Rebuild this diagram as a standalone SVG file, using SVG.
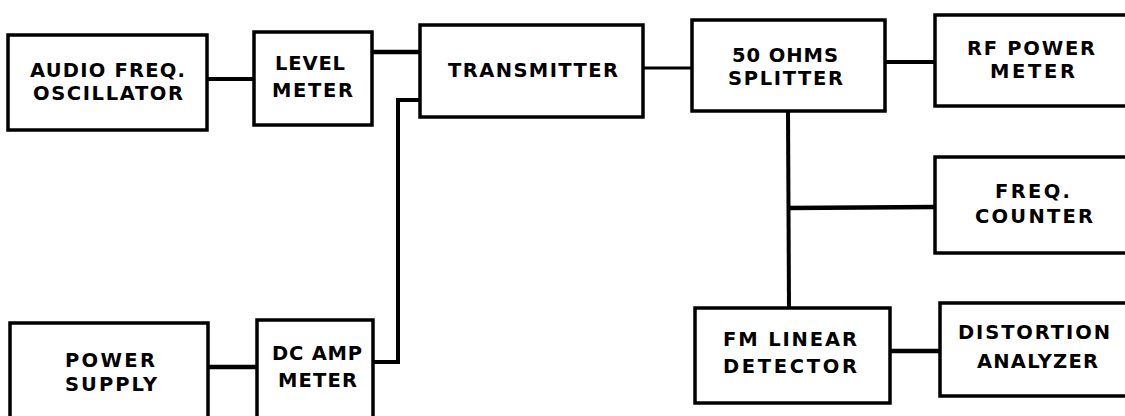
<svg xmlns="http://www.w3.org/2000/svg" width="1125" height="416" viewBox="0 0 1125 416">
<style>
.box{fill:#fff;stroke:#000;stroke-width:3.5;stroke-linejoin:miter}
.lbl{font-family:"DejaVu Sans","Liberation Sans",Arial,sans-serif;font-weight:bold;font-size:19.5px;fill:#000;text-anchor:middle}
.wire{fill:none;stroke:#000;stroke-linejoin:miter}
</style>
<rect width="1125" height="416" fill="#fff"/>
<g id="connectors">
<line class="wire" x1="207" y1="79" x2="254" y2="79" stroke-width="4"/>
<line class="wire" x1="372" y1="52" x2="420" y2="52" stroke-width="4.5"/>
<polyline class="wire" points="373,362 398,362 398,100 420,100" stroke-width="4"/>
<line class="wire" x1="208" y1="367" x2="257" y2="367" stroke-width="4.5"/>
<line class="wire" x1="643" y1="68" x2="692" y2="68" stroke-width="3"/>
<line class="wire" x1="885" y1="62" x2="935" y2="62" stroke-width="4"/>
<line class="wire" x1="788" y1="111" x2="789" y2="308" stroke-width="4"/>
<line class="wire" x1="788" y1="208" x2="935" y2="207" stroke-width="4.5"/>
<line class="wire" x1="890" y1="351" x2="940" y2="351" stroke-width="4.5"/>
</g>
<g id="audio-osc">
<rect class="box" x="8" y="35" width="199" height="95"/>
<text class="lbl" x="107.5" y="77" textLength="155" lengthAdjust="spacing">AUDIO FREQ.</text>
<text class="lbl" x="108" y="100" textLength="150" lengthAdjust="spacing">OSCILLATOR</text>
</g>
<g id="level-meter">
<rect class="box" x="254" y="32" width="118" height="93"/>
<text class="lbl" x="310" y="70" textLength="70" lengthAdjust="spacing">LEVEL</text>
<text class="lbl" x="312.5" y="97" textLength="81" lengthAdjust="spacing">METER</text>
</g>
<g id="transmitter">
<rect class="box" x="420" y="25" width="223" height="92"/>
<text class="lbl" x="533" y="77" textLength="170" lengthAdjust="spacing">TRANSMITTER</text>
</g>
<g id="splitter">
<rect class="box" x="692" y="20" width="193" height="91"/>
<text class="lbl" x="785" y="62" textLength="106" lengthAdjust="spacing">50 OHMS</text>
<text class="lbl" x="785.5" y="85" textLength="115" lengthAdjust="spacing">SPLITTER</text>
</g>
<g id="rf-power-meter">
<rect class="box" x="935" y="15" width="200" height="91"/>
<text class="lbl" x="1031" y="55" textLength="128" lengthAdjust="spacing">RF POWER</text>
<text class="lbl" x="1032.5" y="78" textLength="85" lengthAdjust="spacing">METER</text>
</g>
<g id="freq-counter">
<rect class="box" x="935" y="157" width="200" height="96"/>
<text class="lbl" x="1032.5" y="198" textLength="75" lengthAdjust="spacing">FREQ.</text>
<text class="lbl" x="1034" y="223" textLength="118" lengthAdjust="spacing">COUNTER</text>
</g>
<g id="power-supply">
<rect class="box" x="10" y="323" width="198" height="110"/>
<text class="lbl" x="110" y="367" textLength="90" lengthAdjust="spacing">POWER</text>
<text class="lbl" x="111" y="391" textLength="92" lengthAdjust="spacing">SUPPLY</text>
</g>
<g id="dc-amp-meter">
<rect class="box" x="257" y="320" width="116" height="110"/>
<text class="lbl" x="317" y="360" textLength="90" lengthAdjust="spacing">DC AMP</text>
<text class="lbl" x="317.5" y="387" textLength="79" lengthAdjust="spacing">METER</text>
</g>
<g id="fm-linear-detector">
<rect class="box" x="695" y="308" width="195" height="95"/>
<text class="lbl" x="790" y="346" textLength="134" lengthAdjust="spacing">FM LINEAR</text>
<text class="lbl" x="790" y="373" textLength="134" lengthAdjust="spacing">DETECTOR</text>
</g>
<g id="distortion-analyzer">
<rect class="box" x="940" y="303" width="195" height="93"/>
<text class="lbl" x="1034" y="339" textLength="152" lengthAdjust="spacing">DISTORTION</text>
<text class="lbl" x="1037.5" y="368" textLength="121" lengthAdjust="spacing">ANALYZER</text>
</g>
</svg>
